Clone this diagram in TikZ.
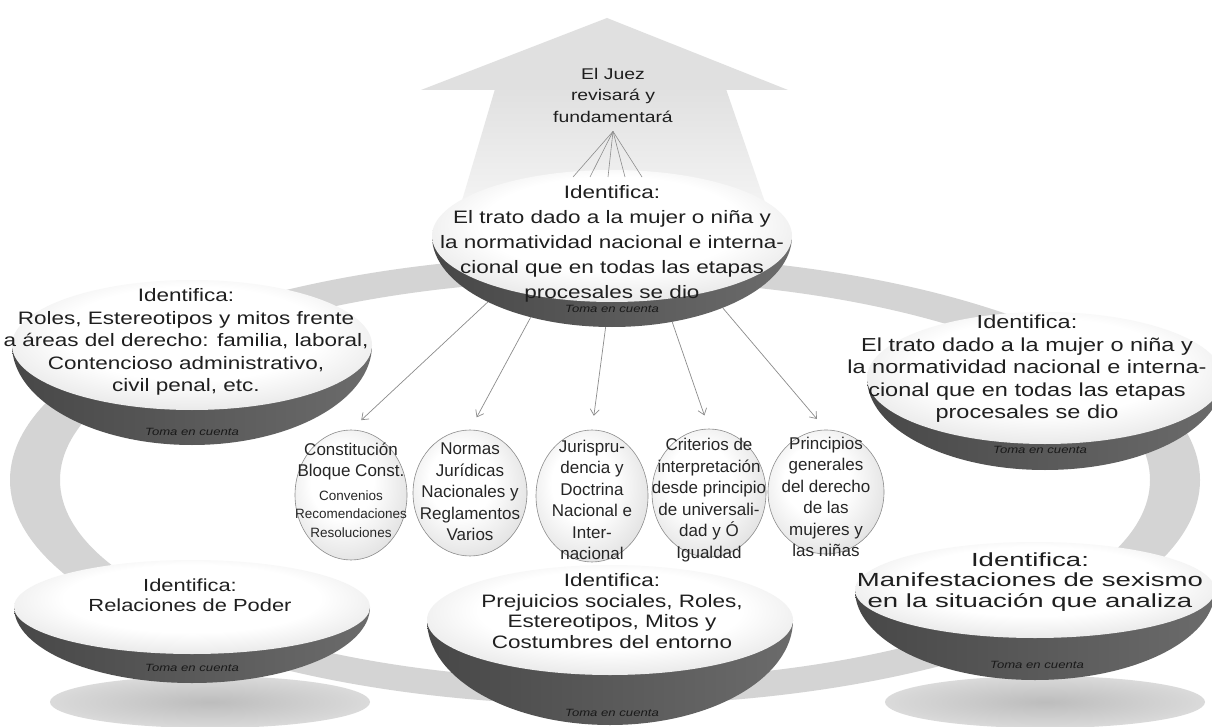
\documentclass[tikz,border=0pt]{standalone}
\usepackage{fontspec}
\setmainfont{Liberation Sans}[FakeStretch=1.25]
\newfontfamily\circfont{Liberation Sans}
\newfontfamily\widefont{Liberation Sans}[FakeStretch=1.45]
\usetikzlibrary{shapes.geometric,arrows.meta}
\pgfdeclareradialshading{platetop}{\pgfpoint{0bp}{6bp}}{color(0bp)=(white); color(18bp)=(white); color(36bp)=(black!14); color(50bp)=(black!36); color(70bp)=(black!45)}
\pgfdeclareradialshading{orb}{\pgfpoint{-5bp}{6bp}}{color(0bp)=(white); color(14bp)=(white); color(34bp)=(black!14); color(50bp)=(black!38); color(70bp)=(black!50)}
\pgfdeclareradialshading{soft}{\pgfpoint{0bp}{0bp}}{color(0bp)=(black!26); color(22bp)=(black!16); color(50bp)=(white)}
\tikzset{
  face/.style={ellipse, inner sep=0pt, shade, shading=platetop},
  bowl/.style={left color=black!72, middle color=black!8, right color=black!58},
  shadowc/.style={shading=soft},
  sphere/.style={ellipse, inner sep=0pt, draw=black!45, line width=0.6pt, shade, shading=orb},
  ptext/.style={align=center, inner sep=0pt, text=black!88},
  ctext/.style={align=center, inner sep=0pt, text=black!85, font=\circfont\fontsize{17}{21.5}\selectfont},
  toma/.style={inner sep=0pt, text=black!90, font=\itshape\fontsize{10.5}{12}\selectfont},
  hidden/.style={ellipse, inner sep=0pt},
  down/.style={draw=black!45, line width=0.7pt, -{Straight Barb[length=6pt,width=9pt]}, shorten >=14pt},
  fan/.style={draw=black!45, line width=0.6pt},
}
\begin{document}
\begin{tikzpicture}[x=1pt,y=-1pt]
\useasboundingbox (0,0) rectangle (1212,727);
\fill[white] (0,0) rectangle (1212,727);

% big arrow
\fill[black!12] (607,18) -- (421,90) -- (788,90) -- cycle;
\shade[top color=black!12, bottom color=white] (495,89) -- (726,89) -- (790,275) -- (440,275) -- cycle;

% ring
\fill[black!17, even odd rule] (605,480) ellipse[x radius=595, y radius=225]
                               (605,480) ellipse[x radius=545, y radius=200];

% spheres
\node[sphere, minimum width=112pt, minimum height=130pt] (c1) at (351,495) {};
\node[sphere, minimum width=114pt, minimum height=126pt] (c2) at (470,493) {};
\node[sphere, minimum width=112pt, minimum height=132pt] (c3) at (592,496) {};
\node[sphere, minimum width=114pt, minimum height=128pt] (c4) at (709,493) {};
\node[sphere, minimum width=116pt, minimum height=124pt] (c5) at (826,492) {};

\node[ctext] (c1t) at (351,490) {Constitución\\Bloque Const.\\[2pt]{\fontsize{13.5}{17}\selectfont Convenios}\\[-3pt]{\fontsize{13.5}{17}\selectfont Recomendaciones}\\[-3pt]{\fontsize{13.5}{17}\selectfont Resoluciones}};
\node[ctext] (c2t) at (470,492) {Normas\\Jurídicas\\Nacionales y\\Reglamentos\\Varios};
\node[ctext] (c3t) at (592,500) {Jurispru-\\dencia y\\Doctrina\\Nacional e\\Inter-\\nacional};
\node[ctext] (c4t) at (709,500) {Criterios de\\interpretación\\desde principio\\de universali-\\dad y Ó\\Igualdad};
\node[ctext] (c5t) at (826,497) {Principios\\generales\\del derecho\\de las\\mujeres y\\las niñas};

% ---- top centre plate
\shade[bowl] (432,236) arc[start angle=180, end angle=0, x radius=180, y radius=91] -- cycle;
\node[face, minimum width=360pt, minimum height=132pt] (tc) at (612,236) {};
\node[hidden, minimum width=360pt, minimum height=182pt] (tcb) at (612,236) {};
\node[ptext, font=\fontsize{18}{25}\selectfont] (tct) at (612,244) {Identifica:\\El trato dado a la mujer o niña y\\la normatividad nacional e interna-\\cional que en todas las etapas\\procesales se dio};
\node[toma] (tcm) at (612,309) {Toma en cuenta};

% ---- top left plate
\shade[bowl] (12,345) arc[start angle=180, end angle=0, x radius=180, y radius=100] -- cycle;
\node[face, minimum width=360pt, minimum height=130pt] (tl) at (192,345) {};
\node[ptext, font=\fontsize{18}{22.5}\selectfont] (tlt) at (186,342) {Identifica:\\Roles, Estereotipos y mitos frente\\a áreas del derecho: familia, laboral,\\Contencioso administrativo,\\civil penal, etc.};
\node[toma] (tlm) at (192,432) {Toma en cuenta};

% ---- top right plate
\shade[bowl] (867,378) arc[start angle=180, end angle=0, x radius=178, y radius=92] -- cycle;
\node[face, minimum width=356pt, minimum height=132pt] (tr) at (1045,378) {};
\node[ptext, font=\fontsize{18.8}{22.5}\selectfont] (trt) at (1027,369) {Identifica:\\El trato dado a la mujer o niña y\\la normatividad nacional e interna-\\cional que en todas las etapas\\procesales se dio};
\node[toma] (trm) at (1040,450) {Toma en cuenta};

% ---- bottom left plate
\shade[shadowc] (210,702) ellipse[x radius=160, y radius=26];
\shade[bowl] (14,607) arc[start angle=180, end angle=0, x radius=178, y radius=76] -- cycle;
\node[face, minimum width=356pt, minimum height=94pt] (bl) at (192,607) {};
\node[ptext, font=\fontsize{17.5}{20.5}\selectfont] (blt) at (190,595) {Identifica:\\Relaciones de Poder};
\node[toma] (blm) at (192,668) {Toma en cuenta};

% ---- bottom right plate
\shade[shadowc] (1045,702) ellipse[x radius=160, y radius=26];
\shade[bowl] (855,590) arc[start angle=180, end angle=0, x radius=180, y radius=90] -- cycle;
\node[face, minimum width=360pt, minimum height=96pt] (br) at (1035,590) {};
\node[ptext, font=\widefont\fontsize{19}{20.5}\selectfont] (brt) at (1030,582) {Identifica:\\Manifestaciones de sexismo\\en la situación que analiza};
\node[toma] (brm) at (1037,665) {Toma en cuenta};

% ---- bottom centre plate
\shade[bowl] (427,620) arc[start angle=180, end angle=0, x radius=183, y radius=105] -- cycle;
\node[face, minimum width=366pt, minimum height=110pt] (bc) at (610,620) {};
\node[ptext, font=\fontsize{18}{20.7}\selectfont] (bct) at (612,611) {Identifica:\\Prejuicios sociales, Roles,\\Estereotipos, Mitos y\\Costumbres del entorno};
\node[toma] (bcm) at (612,713) {Toma en cuenta};

% ---- judge text and fan
\node[ptext, font=\fontsize{15.5}{21.5}\selectfont] (juez) at (613,95) {El Juez\\revisará y\\fundamentará};
\coordinate (f1) at (573,177);
\coordinate (f2) at (590,177);
\coordinate (f3) at (608,177);
\coordinate (f4) at (625,177);
\coordinate (f5) at (642,177);
\foreach \i in {1,...,5} \draw[fan] ([yshift=-9pt]juez.south) -- (f\i);

% ---- arrows to spheres
\draw[down] (tcb.208) -- (c1.north);
\draw[down] (tcb.225) -- (c2.north);
\draw[down] (tcb.266) -- (c3.north);
\draw[down] (tcb.305) -- (c4.north);
\draw[down] (tcb.327) -- (c5.north);
\end{tikzpicture}
\end{document}
